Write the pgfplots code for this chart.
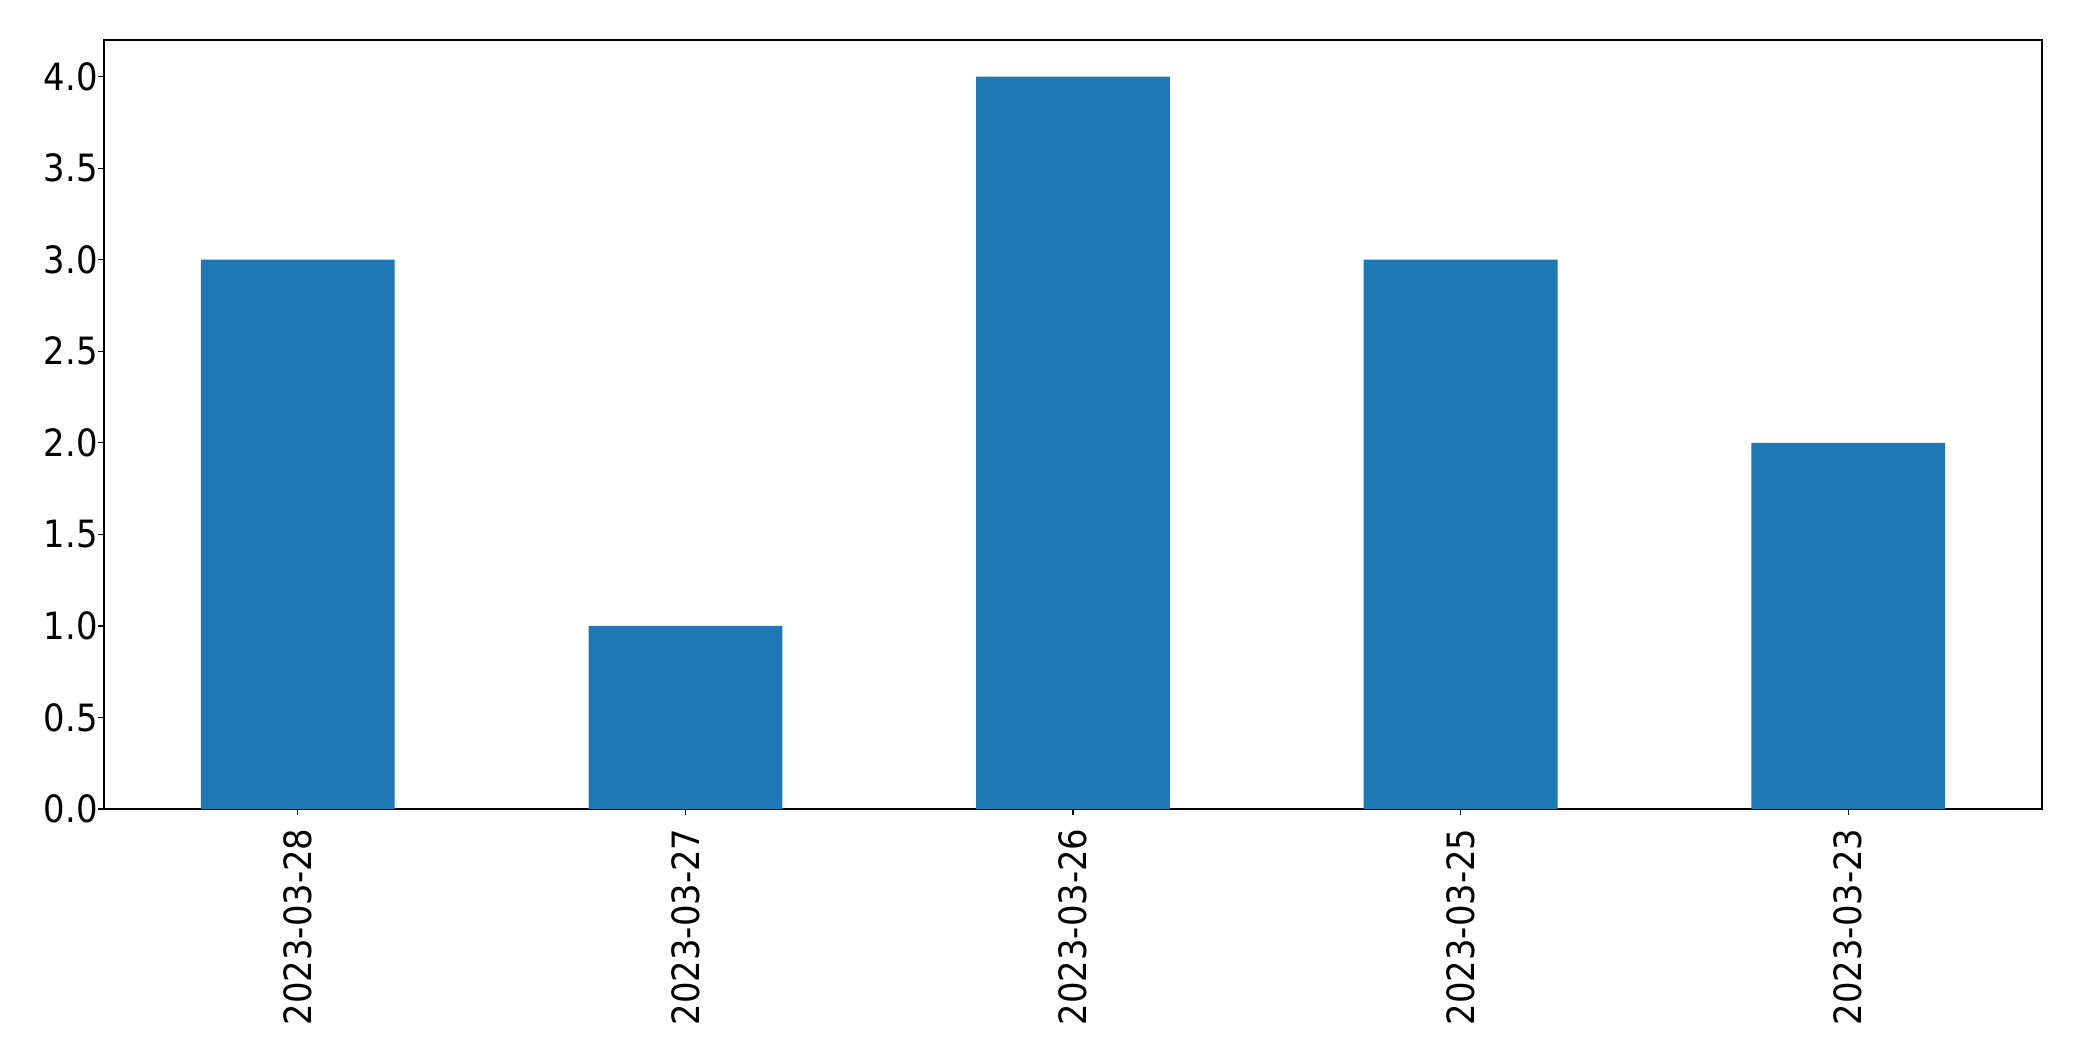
\documentclass[border=0pt]{standalone}
\usepackage{pgfplots}
\pgfplotsset{compat=1.18}
\usepackage{fontspec}
\setmainfont{DejaVu Sans Condensed}
\definecolor{barblue}{HTML}{1F77B4}

\begin{document}
\fontsize{9.4}{11}\selectfont
\begin{tikzpicture}
\begin{axis}[
    name=a,
    scale only axis,
    width=484.5pt, height=192.25pt,
    xmin=-0.5, xmax=4.5,
    ymin=0, ymax=4.2,
    xtick=data,
    xticklabels={2023-03-28,2023-03-27,2023-03-26,2023-03-25,2023-03-23},
    x tick label style={rotate=90, anchor=east, inner sep=0pt},
    xticklabel shift=3.3pt,
    y tick label style={inner sep=0pt},
    yticklabel shift=0pt,
    ytick={0,0.5,...,4.0},
    yticklabel style={/pgf/number format/.cd, fixed, fixed zerofill, precision=1},
    /pgf/number format/assume math mode=true,
    tick pos=left,
    tick align=outside,
    major tick length=1.4pt,
    every tick/.style={black, line width=0.3pt},
    axis line style={line width=0.3pt},
    ticklabel style={font=\fontsize{9.4}{11}\selectfont},
    clip=false,
]
\addplot[ybar, bar width=0.5, fill=barblue, draw=none] coordinates {
    (0,3) (1,1) (2,4) (3,3) (4,2)
};
\path (rel axis cs:0,0) ++(-26pt,-63pt) coordinate (bl);
\path (rel axis cs:1,1) ++(10pt,10pt) coordinate (tr);
\end{axis}
\useasboundingbox (bl) rectangle (tr);
\end{tikzpicture}
\end{document}
